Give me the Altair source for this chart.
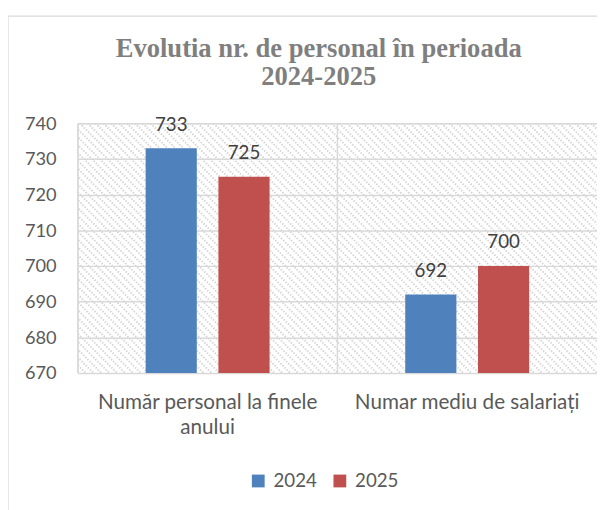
import altair as alt
import pandas as pd

categories = ["Număr personal la finele anului", "Numar mediu de salariați"]
years = ["2024", "2025"]
values_2024 = [733, 692]
values_2025 = [725, 700]
y_ticks = [670, 680, 690, 700, 710, 720, 730, 740]
colors = ["#4f81bd", "#c0504d"]
title_lines = ["Evolutia nr. de personal în perioada", "2024-2025"]

rows = []
for i, c in enumerate(categories):
    rows.append({"cat": c, "year": "2024", "val": values_2024[i]})
    rows.append({"cat": c, "year": "2025", "val": values_2025[i]})
df = pd.DataFrame(rows)

W, H = 528, 254
STEP = W / len(categories)
LBL = "#595959"
FONT = "Lato"

x_scale = alt.Scale(paddingInner=0, paddingOuter=0)
off_scale = alt.Scale(paddingInner=0.297, paddingOuter=0.932)
y_scale = alt.Scale(domain=[670, 740], zero=False, nice=False)

x_axis = alt.Axis(
    title=None, labelAngle=0, labelFontSize=21, labelColor=LBL, labelFont=FONT,
    labelPadding=19, labelLineHeight=25, labelLimit=400, ticks=False, domain=False,
    grid=False, labelOverlap=False,
    labelExpr="datum.label == 'Număr personal la finele anului' ? ['Număr personal la finele', 'anului'] : datum.label",
)
y_axis = alt.Axis(
    title=None, values=y_ticks, labelFontSize=18.5, labelColor=LBL, labelFont=FONT,
    labelPadding=22, ticks=False, domain=False, grid=True, gridColor="#d9d9d9",
    gridWidth=1.5, labelOverlap=False,
)

x_enc = alt.X("cat:N", sort=categories, scale=x_scale, axis=x_axis)
y_enc = alt.Y("val:Q", scale=y_scale, axis=y_axis)

base = alt.Chart(df)

# hatch texture of the plot background
hatch = alt.Chart(alt.sequence(-H, W + 8, 8, as_="k")).transform_calculate(
    k2=f"datum.k + {H}"
).mark_rule(clip=True, stroke="#d6d6d6", strokeWidth=2, strokeDash=[1.5, 1.5]).encode(
    x=alt.X("k:Q", scale=None, axis=None),
    x2="k2:Q",
    y=alt.value(0),
    y2=alt.value(H),
)

bars = base.mark_bar(clip=True).encode(
    x=x_enc,
    y=y_enc,
    xOffset=alt.XOffset("year:N", sort=years, scale=off_scale),
    color=alt.Color(
        "year:N", sort=years,
        scale=alt.Scale(domain=years, range=colors),
        legend=alt.Legend(
            title=None, orient="none", legendX=174, legendY=354, direction="horizontal",
            symbolType="square", symbolSize=169, symbolStrokeWidth=0,
            labelFontSize=19, labelColor=LBL, labelFont=FONT, labelOffset=6,
            columnPadding=13,
        ),
    ),
)

labels = base.mark_text(
    fontSize=19, font=FONT, color="#404040", baseline="alphabetic", dy=-18
).encode(
    x=x_enc,
    y=y_enc,
    xOffset=alt.XOffset("year:N", sort=years, scale=off_scale),
    text="val:Q",
)

# vertical separators at the start of each category band
sep = alt.Chart(pd.DataFrame({"cat": categories})).mark_rule(
    color="#d9d9d9", strokeWidth=1.5, xOffset=-STEP / 2
).encode(
    x=x_enc,
)

border = alt.Chart(pd.DataFrame({"d": [0]})).mark_rect(
    fill=None, stroke="#d9d9d9", strokeWidth=1.2
).encode(
    x=alt.value(-71), x2=alt.value(W + 20), y=alt.value(-109), y2=alt.value(H + 160)
)

title = alt.Chart(pd.DataFrame({"d": [0]})).mark_text(
    text=title_lines, font="Liberation Serif", fontSize=27, fontWeight="bold",
    color="#7f7f7f", align="center", baseline="alphabetic", lineHeight=28,
).encode(x=alt.value(245), y=alt.value(-67))

chart = alt.layer(hatch, sep, bars, labels, border, title).properties(
    width=W,
    height=H,
    padding={"left": 71, "top": 113, "right": 0, "bottom": 135},
    autosize=alt.AutoSizeParams(type="none"),
).configure_view(stroke="#d9d9d9", strokeWidth=1.5).configure(background="white")

chart.save("out.html", embed_options={"renderer": "svg", "actions": False})
